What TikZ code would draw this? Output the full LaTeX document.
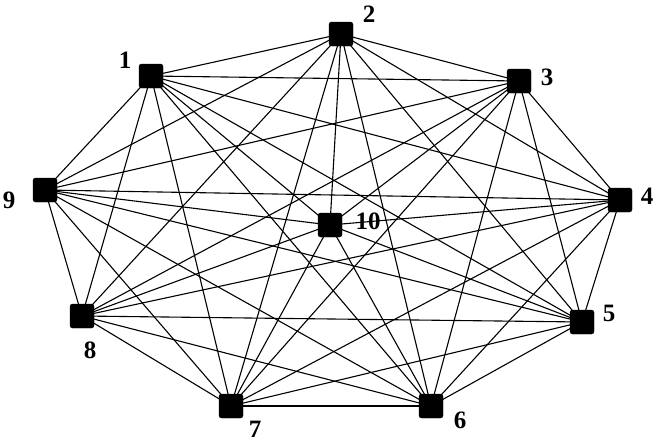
\documentclass[tikz,border=0pt]{standalone}
\usepackage{fontspec}
\setmainfont{Liberation Serif}
\begin{document}
\begin{tikzpicture}[x=1pt,y=-1pt,
  vtx/.style={fill=black,draw=black,minimum size=24pt,inner sep=0pt,rounded corners=2.5pt},
  lbl/.style={font=\bfseries\fontsize{25}{25}\selectfont,inner sep=0pt},
  edge/.style={line width=1.1pt,black}]
\useasboundingbox (0,0) rectangle (658,442);
\node[vtx] (n1) at (151,76) {};
\node[vtx] (n2) at (341,34) {};
\node[vtx] (n3) at (519,81) {};
\node[vtx] (n4) at (620,200) {};
\node[vtx] (n5) at (582,322) {};
\node[vtx] (n6) at (431,406) {};
\node[vtx] (n7) at (231,406) {};
\node[vtx] (n8) at (82,316) {};
\node[vtx] (n9) at (45,190) {};
\node[vtx] (n10) at (330,225) {};
\foreach \a in {1,...,10}{
  \foreach \b in {1,...,10}{
    \ifnum\a<\b
      \draw[edge] (n\a.center) -- (n\b.center);
    \fi
  }
}
\node[lbl] (l1) at (125,60) {1};
\node[lbl] (l2) at (369,14) {2};
\node[lbl] (l3) at (547,77) {3};
\node[lbl] (l4) at (647,196) {4};
\node[lbl] (l5) at (609,313) {5};
\node[lbl] (l6) at (460,420) {6};
\node[lbl] (l7) at (255,429) {7};
\node[lbl] (l8) at (90,350) {8};
\node[lbl] (l9) at (9,200) {9};
\node[lbl] (l10) at (368,221) {10};
\end{tikzpicture}
\end{document}
